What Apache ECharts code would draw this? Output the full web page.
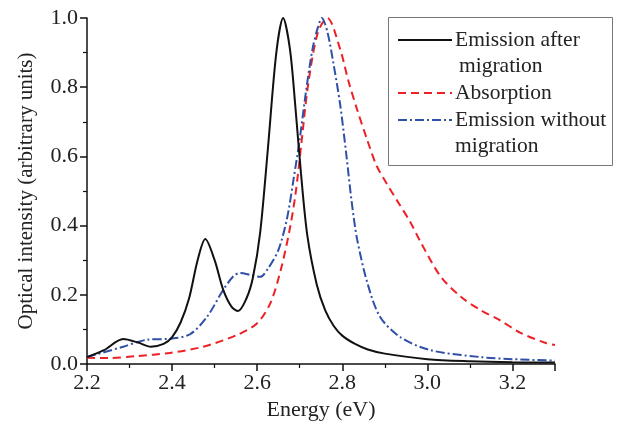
<!DOCTYPE html>
<html>
<head>
<meta charset="utf-8">
<script src="https://cdn.jsdelivr.net/npm/echarts@6/dist/echarts.min.js"></script>
<style>html,body{margin:0;padding:0;background:#fff;}#c{width:625px;height:430px;}</style>
</head>
<body>
<div id="c"></div>
<script>
// Emission after migration (black solid)
var afterX = [2.2, 2.24, 2.285, 2.32, 2.35, 2.38, 2.40, 2.42, 2.44, 2.46, 2.478, 2.50, 2.52, 2.54, 2.555, 2.575, 2.59, 2.607, 2.625, 2.645, 2.661, 2.677, 2.69, 2.703, 2.718, 2.74, 2.76, 2.78, 2.80, 2.83, 2.86, 2.9, 3.0, 3.1, 3.2, 3.3];
var afterY = [0.02, 0.04, 0.072, 0.062, 0.05, 0.058, 0.078, 0.12, 0.19, 0.30, 0.361, 0.30, 0.215, 0.165, 0.153, 0.19, 0.25, 0.38, 0.62, 0.9, 1.0, 0.91, 0.74, 0.55, 0.37, 0.23, 0.155, 0.11, 0.082, 0.058, 0.042, 0.03, 0.014, 0.008, 0.005, 0.004];
// Absorption (red dashed)
var absX = [2.2, 2.25, 2.318, 2.395, 2.473, 2.553, 2.60, 2.631, 2.655, 2.675, 2.69, 2.705, 2.72, 2.743, 2.765, 2.795, 2.814, 2.835, 2.858, 2.88, 2.905, 2.93, 2.96, 2.983, 3.03, 3.078, 3.125, 3.17, 3.219, 3.28, 3.3];
var absY = [0.018, 0.017, 0.023, 0.032, 0.05, 0.084, 0.118, 0.176, 0.27, 0.38, 0.49, 0.65, 0.81, 0.96, 1.0, 0.91, 0.82, 0.735, 0.65, 0.575, 0.52, 0.47, 0.41, 0.355, 0.255, 0.195, 0.156, 0.127, 0.09, 0.06, 0.055];
// Emission without migration (blue dash-dot)
var withoutX = [2.2, 2.285, 2.34, 2.395, 2.442, 2.482, 2.52, 2.545, 2.56, 2.585, 2.607, 2.625, 2.65, 2.67, 2.685, 2.70, 2.715, 2.73, 2.742, 2.752, 2.765, 2.779, 2.795, 2.81, 2.822, 2.835, 2.86, 2.889, 2.936, 3.007, 3.125, 3.2, 3.3];
var withoutY = [0.02, 0.05, 0.07, 0.073, 0.086, 0.136, 0.214, 0.255, 0.263, 0.257, 0.252, 0.275, 0.33, 0.42, 0.53, 0.65, 0.79, 0.91, 0.97, 1.0, 0.96, 0.87, 0.75, 0.6, 0.47, 0.36, 0.23, 0.136, 0.078, 0.04, 0.02, 0.014, 0.01];

var seriesNames = ['Emission after\n migration', 'Absorption', 'Emission without\nmigration'];
var xName = 'Energy (eV)';
var yName = 'Optical intensity (arbitrary units)';

function pairs(xs, ys) { return xs.map(function (x, i) { return [x, ys[i]]; }); }

var FONT = '"Liberation Serif", "Times New Roman", serif';
var BLACK = '#111111', RED = '#ee2026', BLUE = '#2f4fa8';

var chart = echarts.init(document.getElementById('c'), null, { renderer: 'canvas' });

var axisCommon = {
  axisLine: { show: true, onZero: false, lineStyle: { color: '#111', width: 1.5 } },
  axisTick: { show: true, inside: false, length: 7, lineStyle: { color: '#111', width: 1.5 } },
  minorTick: { show: true, splitNumber: 2, length: 4, lineStyle: { color: '#111', width: 1.2 } },
  splitLine: { show: false },
  nameLocation: 'middle'
};

chart.setOption({
  animation: false,
  backgroundColor: '#fff',
  grid: { left: 87, right: 70, top: 18, bottom: 66, containLabel: false },
  xAxis: Object.assign({}, axisCommon, {
    type: 'value', min: 2.2, max: 3.3, interval: 0.2,
    name: xName, nameGap: 34,
    nameTextStyle: { fontFamily: FONT, fontSize: 22, color: '#222' },
    axisLabel: { fontFamily: FONT, fontSize: 22, color: '#222', margin: 8, showMaxLabel: false,
      formatter: function (v) { return v.toFixed(1); } }
  }),
  yAxis: Object.assign({}, axisCommon, {
    type: 'value', min: 0, max: 1, interval: 0.2,
    name: yName, nameGap: 50,
    nameTextStyle: { fontFamily: FONT, fontSize: 21, color: '#222' },
    axisLabel: { fontFamily: FONT, fontSize: 22, color: '#222', margin: 9,
      formatter: function (v) { return v.toFixed(1); } }
  }),
  series: [
    { name: seriesNames[0], type: 'line', data: pairs(afterX, afterY), smooth: 0.3, symbol: 'none',
      lineStyle: { color: BLACK, width: 2 }, z: 3 },
    { name: seriesNames[1], type: 'line', data: pairs(absX, absY), smooth: 0.3, symbol: 'none',
      lineStyle: { color: RED, width: 2, type: [8, 5] }, z: 2 },
    { name: seriesNames[2], type: 'line', data: pairs(withoutX, withoutY), smooth: 0.3, symbol: 'none',
      lineStyle: { color: BLUE, width: 2, type: [9, 3, 2, 3] }, z: 2 }
  ],
  graphic: [
    { type: 'rect', left: 388, top: 17, shape: { width: 224, height: 148 },
      style: { fill: '#fff', stroke: '#777', lineWidth: 1 }, z: 10 },
    { type: 'line', shape: { x1: 398, y1: 40, x2: 452, y2: 40 }, style: { stroke: BLACK, lineWidth: 2 }, z: 11 },
    { type: 'line', shape: { x1: 398, y1: 93, x2: 452, y2: 93 }, style: { stroke: RED, lineWidth: 2, lineDash: [8, 5] }, z: 11 },
    { type: 'line', shape: { x1: 398, y1: 120, x2: 452, y2: 120 }, style: { stroke: BLUE, lineWidth: 2, lineDash: [9, 3, 2, 3] }, z: 11 },
    { type: 'text', x: 455, y: 40, style: { text: 'Emission after', font: '21.5px ' + FONT, fill: '#222', verticalAlign: 'middle' }, z: 11 },
    { type: 'text', x: 459, y: 66, style: { text: 'migration', font: '21.5px ' + FONT, fill: '#222', verticalAlign: 'middle' }, z: 11 },
    { type: 'text', x: 455, y: 93, style: { text: 'Absorption', font: '21.5px ' + FONT, fill: '#222', verticalAlign: 'middle' }, z: 11 },
    { type: 'text', x: 455, y: 120, style: { text: 'Emission without', font: '21.5px ' + FONT, fill: '#222', verticalAlign: 'middle' }, z: 11 },
    { type: 'text', x: 455, y: 146, style: { text: 'migration', font: '21.5px ' + FONT, fill: '#222', verticalAlign: 'middle' }, z: 11 }
  ]
});
</script>
</body>
</html>
